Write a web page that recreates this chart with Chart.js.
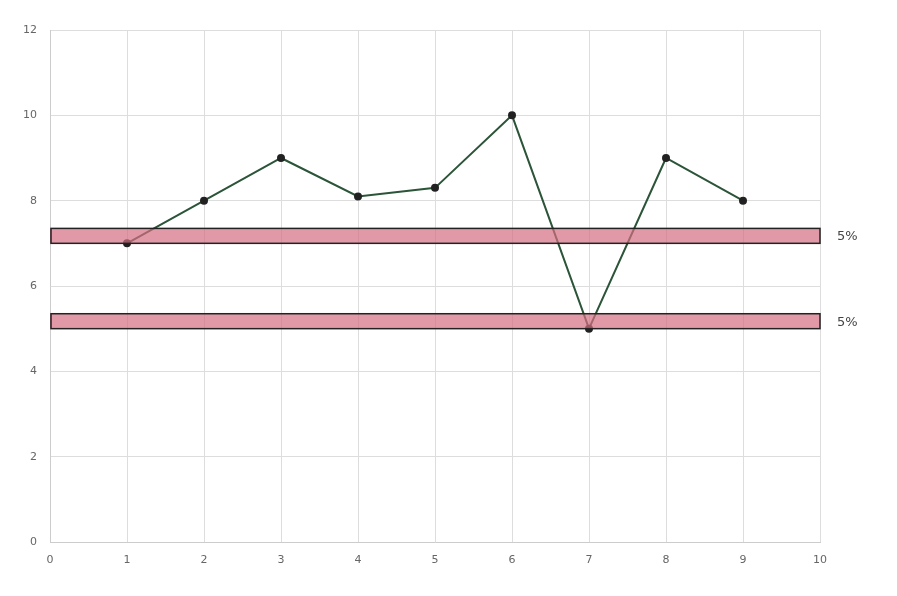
<!DOCTYPE html>
<html>
<head>
<meta charset="utf-8">
<script src="https://cdn.jsdelivr.net/npm/chart.js@4/dist/chart.umd.min.js"></script>
<style>
  html, body { margin: 0; padding: 0; background: #fff; }
  #wrap { width: 897px; height: 596px; }
</style>
</head>
<body>
<div id="wrap"><canvas id="lineChart" width="897" height="596"></canvas></div>
<script>
// data
const xValues = [1, 2, 3, 4, 5, 6, 7, 8, 9];
const yValues = [7, 8, 9, 8.1, 8.3, 10, 5, 9, 8];

// horizontal bands: lower edge, upper edge, label
const bandLow = [7, 5];
const bandHigh = [7.35, 5.35];
const bandLabels = ['5%', '5%'];

const points = xValues.map((x, i) => ({ x: x, y: yValues[i] }));

// draw the bands on top of the line, with the scales of the chart
const bandPlugin = {
  id: 'bands',
  afterDatasetsDraw(chart) {
    const ctx = chart.ctx;
    const area = chart.chartArea;
    const yScale = chart.scales.y;
    ctx.save();
    bandLow.forEach((low, i) => {
      const yTop = yScale.getPixelForValue(bandHigh[i]);
      const yBot = yScale.getPixelForValue(low);
      ctx.fillStyle = 'rgba(214,110,130,0.7)';
      ctx.fillRect(area.left, yTop, area.right - area.left, yBot - yTop);
      ctx.strokeStyle = '#222';
      ctx.lineWidth = 1.5;
      ctx.strokeRect(area.left + 1, yTop, area.right - area.left - 1, yBot - yTop);
      ctx.fillStyle = '#444';
      ctx.font = '13px "DejaVu Sans"';
      ctx.textAlign = 'left';
      ctx.textBaseline = 'middle';
      ctx.fillText(bandLabels[i], area.right + 17, (yTop + yBot) / 2 + 1);
    });
    ctx.restore();
  }
};

const ctx = document.getElementById('lineChart').getContext('2d');
const chart = new Chart(ctx, {
  type: 'line',
  data: {
    datasets: [{
      data: points,
      borderColor: '#2b5438',
      borderWidth: 2,
      pointBackgroundColor: '#222',
      pointBorderColor: '#222',
      pointRadius: 3,
      tension: 0
    }]
  },
  options: {
    responsive: false,
    animation: false,
    layout: { padding: { top: 30, right: 77, left: 0, bottom: 0 } },
    plugins: {
      legend: { display: false },
      tooltip: { enabled: false }
    },
    scales: {
      x: {
        type: 'linear',
        min: 0,
        max: 10,
        ticks: { stepSize: 1, color: '#666', padding: 12, font: { family: 'DejaVu Sans', size: 11 } },
        grid: { color: '#ddd', drawTicks: false },
        border: { color: '#ccc' },
        afterFit(scale) { scale.height = 54; }
      },
      y: {
        min: 0,
        max: 12,
        ticks: { stepSize: 2, color: '#666', padding: 13, font: { family: 'DejaVu Sans', size: 11 } },
        grid: { color: '#ddd', drawTicks: false },
        border: { color: '#ccc' },
        afterFit(scale) { scale.width = 50; }
      }
    }
  },
  plugins: [bandPlugin]
});
</script>
</body>
</html>
